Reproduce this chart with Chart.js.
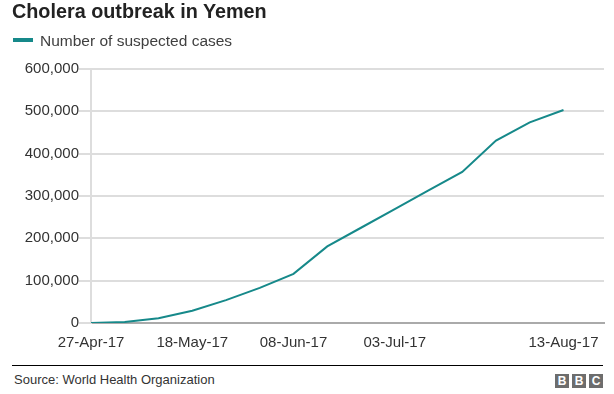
<!DOCTYPE html>
<html>
<head>
<meta charset="utf-8">
<script src="https://cdn.jsdelivr.net/npm/chart.js@4.4.1/dist/chart.umd.min.js"></script>
<style>
  html, body { margin: 0; padding: 0; background: #fff; }
  body { width: 614px; height: 394px; position: relative; overflow: hidden; font-family: "Liberation Sans", Arial, Helvetica, sans-serif; }
  #title { position: absolute; left: 12px; top: 0px; font-size: 19.8px; font-weight: bold; color: #222; white-space: nowrap; }
  #legend { position: absolute; left: 13px; top: 32px; font-size: 15.5px; color: #404040; white-space: nowrap; }
  #legend .sw { display: inline-block; width: 20px; height: 4px; background: #16898a; vertical-align: middle; margin-right: 7px; position: relative; top: -2px; }
  #chartwrap { position: absolute; left: 0; top: 0; width: 614px; height: 360px; }
  #footer { position: absolute; left: 12px; top: 365px; width: 591px; border-top: 1px solid #000; }
  #source { position: absolute; left: 2px; top: 6px; font-size: 13px; color: #333; white-space: nowrap; }
  #bbc { position: absolute; right: 0; top: 8px; display: flex; gap: 3px; }
  #bbc div { width: 14px; height: 14px; background: #6d6d6d; color: #fff; font-weight: bold; font-size: 12px; line-height: 14px; text-align: center; }
</style>
</head>
<body>
<div id="chartwrap"><canvas id="c" width="614" height="360"></canvas></div>
<div id="title">Cholera outbreak in Yemen</div>
<div id="legend"><span class="sw"></span>Number of suspected cases</div>
<div id="footer">
  <div id="source">Source: World Health Organization</div>
  <div id="bbc"><div>B</div><div>B</div><div>C</div></div>
</div>
<script>
// Category labels (only some dates are labelled on the axis)
const dates = ['27-Apr-17', '', '', '18-May-17', '', '', '08-Jun-17', '', '', '03-Jul-17', '', '', '', '', '13-Aug-17'];
// Number of suspected cases
const cases = [0, 2500, 11000, 29000, 54000, 83000, 116000, 181000, 225000, 269000, 313000, 357000, 431000, 474000, 503000];
// Y tick values
const yTicks = [0, 100000, 200000, 300000, 400000, 500000, 600000];

const FONT = '"Liberation Sans", Arial, Helvetica, sans-serif';
const points = cases.map((v, i) => ({ x: i, y: v }));

new Chart(document.getElementById('c'), {
  type: 'line',
  data: {
    datasets: [{
      label: 'Number of suspected cases',
      data: points,
      borderColor: '#16898a',
      borderWidth: 2,
      pointRadius: 0,
      tension: 0,
      fill: false
    }]
  },
  options: {
    responsive: false,
    devicePixelRatio: 1,
    animation: false,
    layout: { padding: { top: 69, right: 10, left: 0, bottom: 0 } },
    plugins: { legend: { display: false }, tooltip: { enabled: false } },
    scales: {
      x: {
        type: 'linear',
        min: 0,
        max: 15.2,
        afterBuildTicks: (s) => {
          s.ticks = dates.map((d, i) => ({ value: i, label: d })).filter(t => t.label !== '').map(t => ({ value: t.value }));
        },
        afterFit: (s) => { s.height = 37; },
        grid: { display: false },
        border: { display: true, color: '#aaaaaa', width: 2 },
        ticks: {
          autoSkip: false,
          maxRotation: 0,
          padding: 3,
          color: '#333',
          font: { family: FONT, size: 15 },
          callback: (v) => dates[v] || ''
        }
      },
      y: {
        min: 0,
        max: 600000,
        afterBuildTicks: (s) => { s.ticks = yTicks.map(v => ({ value: v })); },
        afterFit: (s) => { s.width = 91; },
        grid: { color: '#dddddd', lineWidth: 2, tickLength: 12, drawTicks: true },
        border: { display: true, color: '#dddddd', width: 2 },
        ticks: {
          padding: 0,
          color: '#333',
          font: { family: FONT, size: 15 },
          callback: (v) => v.toLocaleString('en-US')
        }
      }
    }
  }
});
</script>
</body>
</html>
